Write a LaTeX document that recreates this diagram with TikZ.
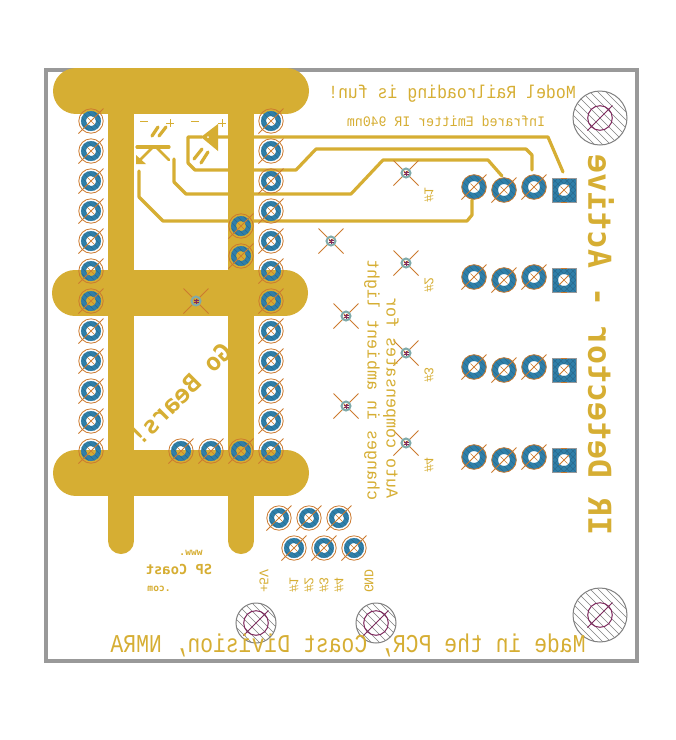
\documentclass[tikz,border=0pt]{standalone}
\usepackage{fontspec}
\setmonofont{Liberation Mono}
\newfontfamily\headfont{DejaVu Sans Mono}
\definecolor{copper}{HTML}{D6AE33}
\definecolor{padblue}{HTML}{2F7FA9}
\definecolor{hatchblue}{HTML}{2A6A8E}
\definecolor{drillorange}{HTML}{CC7A2F}
\definecolor{outline}{HTML}{999999}
\definecolor{holepurple}{HTML}{7F2A5F}
\definecolor{viateal}{HTML}{7FAAAA}
\newcommand{\fsz}[1]{\fontsize{#1}{#1}\selectfont}
\tikzset{
  trace/.style={copper, line width=3.2pt, line cap=round, line join=round},
  plane/.style={copper, line cap=round},
  mirror/.style={xscale=-1, text=copper, inner sep=0pt, font=\ttfamily},
  upmirror/.style={rotate=90, yscale=-1, text=copper, inner sep=0pt, font=\ttfamily},
  thpad/.pic={
    \draw[padblue, line width=5pt] (0,0) circle[radius=7.5];
    \begin{scope}[even odd rule]
      \clip (0,0) circle[radius=10] (0,0) circle[radius=5];
      \foreach \k in {-12,-6,0,6,12} \draw[hatchblue, line width=0.5pt] (\k-12,-12) -- (\k+12,12);
    \end{scope}
    \draw[drillorange, line width=0.8pt] (0,0) circle[radius=12.2];
    \draw[drillorange, line width=0.8pt] (-12.5,12.5) -- (12.5,-12.5);
    \draw[drillorange, line width=0.6pt] (-3.5,-3.5) -- (3.5,3.5);
  },
  conpad/.pic={
    \draw[padblue, line width=6.3pt] (0,0) circle[radius=9.2];
    \begin{scope}[even odd rule]
      \clip (0,0) circle[radius=12.3] (0,0) circle[radius=6];
      \foreach \k in {-12,-6,0,6,12} \draw[hatchblue, line width=0.5pt] (\k-14,-14) -- (\k+14,14);
    \end{scope}
    \draw[drillorange, line width=0.8pt] (0,0) circle[radius=12.3];
    \draw[drillorange, line width=0.8pt] (-12.5,12.5) -- (12.5,-12.5);
    \draw[drillorange, line width=0.6pt] (-3.5,-3.5) -- (3.5,3.5);
  },
  sqpad/.pic={
    \fill[padblue, even odd rule] (-12,-12) rectangle (12,12) (0,0) circle[radius=6];
    \begin{scope}[even odd rule]
      \clip (-12,-12) rectangle (12,12) (0,0) circle[radius=6];
      \foreach \k in {-18,-12,-6,0,6,12,18} {
        \draw[hatchblue, line width=0.5pt] (\k-14,-14) -- (\k+14,14);
        \draw[hatchblue, line width=0.5pt] (\k-14,14) -- (\k+14,-14);
      }
    \end{scope}
    \draw[outline, line width=1pt] (-12,-12) rectangle (12,12);
    \draw[drillorange, line width=0.8pt] (-5,5) -- (5,-5);
    \draw[drillorange, line width=0.6pt] (-3.5,-3.5) -- (3.5,3.5);
    \draw[drillorange, line width=1pt] (-3,-12) -- (3,-12) (-3,12) -- (3,12);
  },
  viapad/.pic={
    \draw[drillorange, line width=0.8pt] (-12.5,-12.5) -- (12.5,12.5) (-12.5,12.5) -- (12.5,-12.5);
    \draw[viateal, line width=2pt] (0,0) circle[radius=4.5];
    \draw[holepurple, line width=0.6pt] (-2.5,-1) -- (2.5,-1) (-2.5,1) -- (2.5,1) (0,-2.5) -- (0,2.5);
  },
  mounthole/.pic={
    \begin{scope}
      \clip (0,0) circle[radius=#1];
      \foreach \k in {-64,-56,...,64} \draw[gray, line width=0.6pt] (\k-30,-30) -- (\k+30,30);
    \end{scope}
    \draw[gray, line width=1pt] (0,0) circle[radius=#1];
    \draw[holepurple, line width=1pt] (0,0) circle[radius=12.3];
    \draw[holepurple, line width=1pt] (-12.5,12.5) -- (12.5,-12.5);
  }
}
\begin{document}
\begin{tikzpicture}[x=1pt,y=-1pt]
\useasboundingbox (0,0) rectangle (676,740);
\fill[white] (0,0) rectangle (676,740);
\draw[outline, line width=4pt] (46,70) rectangle (637,661);
\draw[plane, line width=46pt] (76,91) -- (286,91);
\draw[plane, line width=46pt] (75,293) -- (285,293);
\draw[plane, line width=46pt] (76,473) -- (286,473);
\draw[plane, line width=26pt] (121,91) -- (121,541);
\draw[plane, line width=26pt] (241,91) -- (241,541);
\draw[trace] (563,172) -- (548,137) -- (217,137);
\draw[trace] (202,137) -- (188,137) -- (188,163) -- (195,170) -- (296,170) -- (316,149) -- (526,149) -- (532,155) -- (532,170);
\draw[trace] (174,159) -- (174,182) -- (186,194) -- (351,194) -- (383,160) -- (488,160) -- (502,176);
\draw[trace] (139,171) -- (139,197) -- (163,221) -- (467,221) -- (472,215) -- (472,200);
\fill[copper] (201,137) -- (218,124) -- (218,151) -- cycle;
\fill[white] (208,137) circle[radius=1];
\draw[trace] (194,159) -- (202,149);
\draw[trace] (201,163) -- (208,152);
\draw[trace] (137,147) -- (169,147);
\draw[trace, line width=2.6pt] (157,148) -- (169,160);
\draw[trace, line width=2.6pt] (152,148) -- (139,161);
\fill[copper] (136,155) -- (136,164) -- (146,164) -- cycle;
\draw[trace] (152,136) -- (158,127);
\draw[trace] (159,136) -- (166,127);
\draw[copper, line width=1pt] (140,121) -- (148,121) (191,121) -- (199,121) (166,123) -- (174,123) (170,119) -- (170,127) (218,123) -- (226,123) (222,119) -- (222,127);
\foreach \i in {0,...,11} {
  \pic at (91,121+30*\i) {thpad};
  \pic at (271,121+30*\i) {thpad};
}
\foreach \y in {226,256} \pic at (241,\y) {thpad};
\foreach \x in {181,211,241} \pic at (\x,451) {thpad};
\foreach \x in {279,309,339} \pic at (\x,518) {thpad};
\foreach \x in {294,324,354} \pic at (\x,548) {thpad};
\foreach \y in {190,280,370,460} {
  \pic at (564,\y) {sqpad};
  \pic at (534,\y-3) {conpad};
  \pic at (504,\y) {conpad};
  \pic at (474,\y-3) {conpad};
}
\foreach \x/\y in {406/173,331/241,406/263,346/316,406/353,346/406,406/443,196/301} \pic at (\x,\y) {viapad};
\pic at (600,118) {mounthole=27};
\pic at (600,615) {mounthole=27};
\pic at (256,623) {mounthole=20};
\pic at (376,623) {mounthole=20};
\node[mirror, yscale=1.12] (funlabel) at (452,94) {\fsz{16.5}Model Railroading is fun!};
\node[mirror, yscale=1.1] (emitlabel) at (446,121) {\fsz{13.2}Infrared Emitter IR 940nm};
\node[mirror, yscale=1.2] (madelabel) at (348,645) {\fsz{21.4}Made in the PCR, Coast Division, NMRA};
\node[upmirror] (titlelabel) at (601,345) {\headfont\bfseries\fsz{31.6}IR Detector - Active};
\node[upmirror] (ambientlabel) at (372,380) {\fsz{16.7}changes in ambient light};
\node[upmirror] (autolabel) at (391,398) {\fsz{16.7}Auto compensates for};
\foreach \n/\y in {1/195,2/285,3/375,4/465} \node[upmirror] (sensor\n) at (429,\y) {\fsz{13.3}\#\n};
\node[upmirror] (fivevolt) at (264,581) {\fsz{13.3}+5V};
\foreach \n/\x in {1/294,2/309,3/324,4/339} \node[upmirror] (pin\n) at (\x,585) {\fsz{13.3}\#\n};
\node[upmirror] (gndlabel) at (369,581) {\fsz{13.3}GND};
\node[mirror] (wwwlabel) at (191,553) {\headfont\bfseries\fsz{9.6}www.};
\node[mirror] (coastlabel) at (179,569) {\headfont\bfseries\fsz{13.8}SP Coast};
\node[mirror] (comlabel) at (159,589) {\headfont\bfseries\fsz{9.6}.com};
\node[rotate=45, mirror] (bearslabel) at (181,394) {\headfont\bfseries\fsz{24.4}Go Bears!};
\end{tikzpicture}
\end{document}
